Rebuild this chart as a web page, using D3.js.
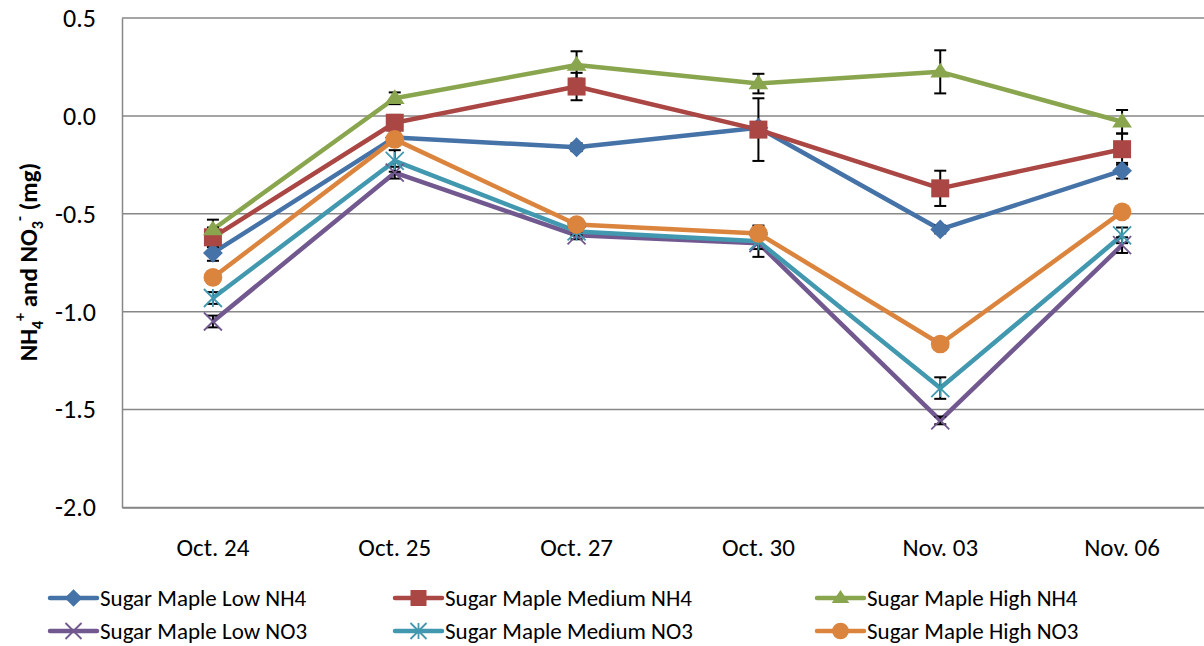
<!DOCTYPE html>
<html>
<head>
<meta charset="utf-8">
<script src="https://cdn.jsdelivr.net/npm/d3@7"></script>
<style>
  body { margin: 0; background: #fff; }
  svg { display: block; font-family: Carlito, Calibri, "Open Sans", sans-serif; }
</style>
</head>
<body>
<div id="chart"></div>
<script>
var width = 1204,
    height = 646

var categories = ['Oct. 24', 'Oct. 25', 'Oct. 27', 'Oct. 30', 'Nov. 03', 'Nov. 06']
var yTicks = [0.5, 0.0, -0.5, -1.0, -1.5, -2.0]

var seriesNames = ['Sugar Maple Low NH4', 'Sugar Maple Medium NH4', 'Sugar Maple High NH4',
                   'Sugar Maple Low NO3', 'Sugar Maple Medium NO3', 'Sugar Maple High NO3']

var lowNH4 = [-0.70, -0.11, -0.16, -0.06, -0.58, -0.28]
var medNH4 = [-0.62, -0.035, 0.15, -0.07, -0.37, -0.17]
var highNH4 = [-0.58, 0.09, 0.26, 0.165, 0.225, -0.03]
var lowNO3 = [-1.05, -0.29, -0.61, -0.65, -1.555, -0.66]
var medNO3 = [-0.93, -0.23, -0.59, -0.64, -1.39, -0.61]
var highNO3 = [-0.825, -0.12, -0.555, -0.60, -1.165, -0.49]

var errLowNH4 = [0.04, 0.02, 0.02, 0.02, 0.02, 0.04]
var errMedNH4 = [0.05, 0.04, 0.07, 0.16, 0.09, 0.08]
var errHighNH4 = [0.05, 0.03, 0.07, 0.05, 0.11, 0.06]
var errLowNO3 = [0.03, 0.03, 0.02, 0.03, 0.02, 0.04]
var errMedNO3 = [0.03, 0.055, 0.02, 0.08, 0.055, 0.04]
var errHighNO3 = [0.03, 0.02, 0.02, 0.03, 0.02, 0.02]

var colors = ['#4572A7', '#AA4643', '#89A54E', '#71588F', '#4198AF', '#DB843D']
var shapes = ['diamond', 'square', 'triangle', 'cross', 'star', 'circle']

var allValues = [lowNH4, medNH4, highNH4, lowNO3, medNO3, highNO3]
var allErrors = [errLowNH4, errMedNH4, errHighNH4, errLowNO3, errMedNO3, errHighNO3]

var series = seriesNames.map(function(name, i) {
    return {
        name: name,
        color: colors[i],
        shape: shapes[i],
        points: categories.map(function(c, j) {
            return { cat: c, value: allValues[i][j], err: allErrors[i][j] }
        })
    }
})

var x = d3.scaleBand().domain(categories).range([122, 1213])
var y = d3.scaleLinear().domain([-2, 0.5]).range([507.5, 18])

var svg = d3.select('#chart').append('svg')
    .attr('width', width)
    .attr('height', height)

// gridlines
svg.append('g')
    .selectAll('line').data(yTicks)
    .enter().append('line')
        .attr('x1', 122).attr('x2', 1213)
        .attr('y1', function(d) { return y(d) })
        .attr('y2', function(d) { return y(d) })
        .attr('stroke', '#878787')
        .attr('stroke-width', 1.5)

// y axis
var yAxis = svg.append('g')
    .attr('transform', 'translate(122,0)')
    .call(d3.axisLeft(y).tickValues(yTicks).tickSize(0).tickPadding(26)
        .tickFormat(function(d) { return d.toFixed(1) }))
yAxis.select('.domain').attr('stroke', '#878787').attr('stroke-width', 1.5)
yAxis.selectAll('text').attr('font-size', 26).attr('fill', '#000')
    .attr('font-family', 'Carlito, Calibri, "Open Sans", sans-serif')

// x axis
var xAxis = svg.append('g')
    .attr('transform', 'translate(0,507.5)')
    .call(d3.axisBottom(x).tickSize(0).tickPadding(31))
xAxis.select('.domain').attr('stroke', '#878787').attr('stroke-width', 1.5)
xAxis.selectAll('text').attr('font-size', 25).attr('fill', '#000')
    .attr('font-family', 'Carlito, Calibri, "Open Sans", sans-serif')

// y axis title
var title = svg.append('text')
    .attr('transform', 'translate(37,262) rotate(-90)')
    .attr('text-anchor', 'middle')
    .attr('font-size', 25)
    .attr('font-weight', 'bold')
title.append('tspan').text('NH')
title.append('tspan').text('4').attr('font-size', 16).attr('dy', 6)
title.append('tspan').text('+').attr('font-size', 16).attr('dy', -18)
title.append('tspan').text(' and NO').attr('dy', 12)
title.append('tspan').text('3').attr('font-size', 16).attr('dy', 6)
title.append('tspan').text('-').attr('font-size', 16).attr('dy', -18)
title.append('tspan').text(' (mg)').attr('dy', 12)

function drawMarker(sel, shape, color, s) {
    if (shape === 'circle') {
        sel.append('circle').attr('r', s * 0.52).attr('fill', color)
    } else if (shape === 'square') {
        sel.append('rect').attr('x', -s / 2).attr('y', -s / 2)
            .attr('width', s).attr('height', s).attr('fill', color)
    } else if (shape === 'diamond') {
        var h = s * 0.55
        sel.append('path').attr('d', 'M0,' + (-h) + 'L' + h + ',0L0,' + h + 'L' + (-h) + ',0Z')
            .attr('fill', color)
    } else if (shape === 'triangle') {
        var w = s * 0.55
        sel.append('path').attr('d', 'M0,' + (-s * 0.5) + 'L' + w + ',' + (s * 0.32) + 'L' + (-w) + ',' + (s * 0.32) + 'Z')
            .attr('fill', color)
    } else if (shape === 'cross') {
        var c = s * 0.5
        sel.append('path').attr('d', 'M' + (-c) + ',' + (-c) + 'L' + c + ',' + c + 'M' + c + ',' + (-c) + 'L' + (-c) + ',' + c)
            .attr('stroke', color).attr('stroke-width', 1.8)
    } else if (shape === 'star') {
        var k = s * 0.5
        sel.append('path').attr('d', 'M' + (-k) + ',' + (-k) + 'L' + k + ',' + k + 'M' + k + ',' + (-k) + 'L' + (-k) + ',' + k + 'M0,' + (-k) + 'L0,' + k)
            .attr('stroke', color).attr('stroke-width', 1.8)
    }
}

var line = d3.line()
    .x(function(d) { return x(d.cat) + x.bandwidth() / 2 })
    .y(function(d) { return y(d.value) })

// lines
svg.append('g').selectAll('path').data(series)
    .enter().append('path')
        .attr('d', function(d) { return line(d.points) })
        .attr('fill', 'none')
        .attr('stroke', function(d) { return d.color })
        .attr('stroke-width', 4.5)
        .attr('stroke-linejoin', 'round')

// error bars
var errG = svg.append('g')
series.forEach(function(s) {
    s.points.forEach(function(p) {
        var cx = x(p.cat) + x.bandwidth() / 2
        var y1 = y(p.value - p.err), y2 = y(p.value + p.err)
        errG.append('line').attr('x1', cx).attr('x2', cx).attr('y1', y1).attr('y2', y2)
            .attr('stroke', '#000').attr('stroke-width', 2)
        ;[y1, y2].forEach(function(yy) {
            errG.append('line').attr('x1', cx - 6).attr('x2', cx + 6).attr('y1', yy).attr('y2', yy)
                .attr('stroke', '#000').attr('stroke-width', 2)
        })
    })
})

// markers
series.forEach(function(s) {
    svg.append('g').selectAll('g').data(s.points)
        .enter().append('g')
            .attr('transform', function(d) {
                return 'translate(' + (x(d.cat) + x.bandwidth() / 2) + ',' + y(d.value) + ')'
            })
            .each(function() { drawMarker(d3.select(this), s.shape, s.color, 18) })
})

// legend
var legendX = [50, 395, 817]
var legendY = [598, 631]
var legend = svg.append('g').selectAll('g').data(series)
    .enter().append('g')
        .attr('transform', function(d, i) {
            return 'translate(' + legendX[i % 3] + ',' + legendY[Math.floor(i / 3)] + ')'
        })
legend.append('line')
    .attr('x1', 0).attr('x2', 47)
    .attr('stroke', function(d) { return d.color })
    .attr('stroke-width', 4.5)
    .attr('stroke-linecap', 'round')
legend.each(function(d) {
    var g = d3.select(this).append('g').attr('transform', 'translate(23.5,0)')
    drawMarker(g, d.shape, d.color, 16)
})
legend.append('text')
    .attr('x', 50)
    .attr('dy', '0.35em')
    .attr('font-size', 23)
    .text(function(d) { return d.name })
</script>
</body>
</html>
